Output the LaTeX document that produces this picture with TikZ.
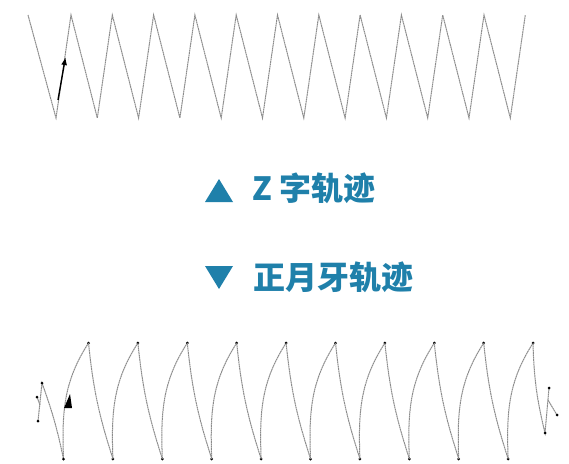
\documentclass[tikz,border=0pt]{standalone}
\usepackage{fontspec}
\newfontfamily\cjk{Noto Sans CJK SC}
\usetikzlibrary{arrows.meta}
\definecolor{labelblue}{RGB}{31,128,170}
\tikzset{
  track/.style={gray!90,line width=1pt,dash pattern=on 1.8pt off .5pt},
  legend/.style={font=\cjk\bfseries\fontsize{32}{32}\selectfont,text=labelblue,inner sep=0pt,anchor=base west},
}
\begin{document}
\begin{tikzpicture}[x=1pt,y=-1pt,>={Latex[length=8pt,width=6pt]}]
\useasboundingbox[fill=white](0,0) rectangle (569,463);
% Z trajectory
\draw[track](28,15)
\foreach \k in {0,...,11}
{
    -- ({56+41.3*\k},118) -- ({71+41.3*\k},15)
};
\draw[->,line width=1.4pt,shorten >=-3pt](58,100)--(65,60);
% legend
\fill[labelblue](205,202)--(233,202)--(219,179)--cycle;
\node[legend](zlabel) at (252,200) {Z 字轨迹};
\fill[labelblue](205,266)--(233,266)--(219,289)--cycle;
\node[legend](moonlabel) at (253,289) {正月牙轨迹};
% crescent trajectory
\draw[track](37,397)--(40,405);
\draw[track](38,421)--(42,383) to[bend left=4] (63.5,459);
\foreach \k in {0,...,9}
{
    \draw[track]({63.5+49.4*\k},459) to[out=92,in=237] ({88.5+49.4*\k},343);
    \fill({63.5+49.4*\k},459) circle (1.5pt);
    \fill({88.5+49.4*\k},343) circle (1.5pt);
}
\foreach \k in {0,...,8}
{
    \draw[track]({88.5+49.4*\k},343) to[bend right=6] ({113+49.4*\k},459);
}
\draw[track](533,343) to[bend right=6] (545,433)--(549,388);
\draw[track](548,400)--(557,415);
\foreach \p in {(37,397),(38,421),(42,383),(545,433),(549,388),(557,415)}
{
    \fill\p circle (1.5pt);
}
\fill(70,394)--(64,408)--(72,408)--cycle;
\end{tikzpicture}
\end{document}
